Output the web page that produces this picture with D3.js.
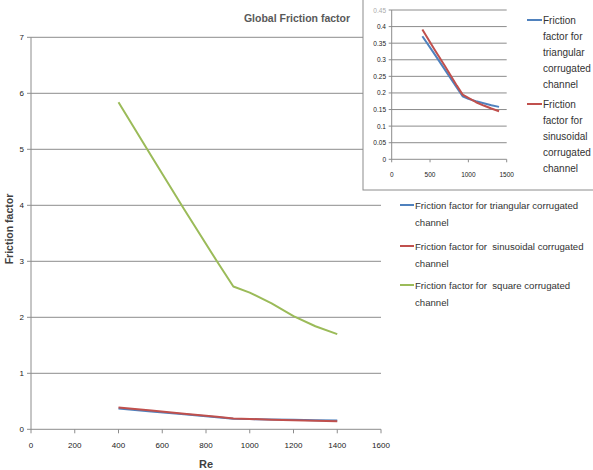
<!DOCTYPE html>
<html><head><meta charset="utf-8">
<script src="https://cdn.jsdelivr.net/npm/d3@7"></script>
<style>body{margin:0;background:#fff;}svg{display:block;font-family:"Liberation Sans",Arial,sans-serif;}text{white-space:pre;}</style>
</head><body>
<svg id="c" width="593" height="470"></svg>
<script>
// ---- data ----
const re = [400, 550, 700, 850, 925, 1000, 1100, 1200, 1300, 1400];
const triangular = [0.371, 0.320, 0.268, 0.216, 0.190, 0.182, 0.175, 0.169, 0.163, 0.158];
const sinusoidal = [0.391, 0.334, 0.279, 0.222, 0.195, 0.185, 0.172, 0.162, 0.153, 0.145];
const square = [5.84, 4.88, 3.93, 3.00, 2.55, 2.44, 2.25, 2.02, 1.84, 1.70];
const mainXTicks = [0, 200, 400, 600, 800, 1000, 1200, 1400, 1600];
const mainYTicks = [0, 1, 2, 3, 4, 5, 6, 7];
const insetXTicks = [0, 500, 1000, 1500];
const insetYTicks = [0, 0.05, 0.1, 0.15, 0.2, 0.25, 0.3, 0.35, 0.4, 0.45];
const mainLegend = [
  ["Friction factor for triangular corrugated", "channel"],
  ["Friction factor for  sinusoidal corrugated", "channel"],
  ["Friction factor for  square corrugated", "channel"]
];
const insetLegend = [
  ["Friction", "factor for", "triangular", "corrugated", "channel"],
  ["Friction", "factor for", "sinusoidal", "corrugated", "channel"]
];
const colors = ["#4F81BD", "#C0504D", "#9BBB59"];

const svg = d3.select("#c");
const gridC = "#8c8c8c";

// ---- main chart ----
const x = d3.scaleLinear().domain([0, 1600]).range([31, 381]);
const y = d3.scaleLinear().domain([0, 7]).range([429.3, 37.3]);

const gy = svg.append("g");
gy.selectAll("line.grid").data(mainYTicks).join("line")
  .attr("x1", 27).attr("x2", x(1600))
  .attr("y1", d => y(d)).attr("y2", d => y(d))
  .attr("stroke", gridC).attr("stroke-width", 1);
gy.selectAll("text").data(mainYTicks).join("text")
  .attr("x", 24).attr("y", d => y(d) + 3)
  .attr("text-anchor", "end").attr("font-size", 8).attr("fill", "#222")
  .text(d => d);
svg.append("line").attr("x1", x(0)).attr("x2", x(0)).attr("y1", y(7)).attr("y2", y(0))
  .attr("stroke", gridC);
const gx = svg.append("g");
gx.selectAll("line").data(mainXTicks).join("line")
  .attr("x1", d => x(d)).attr("x2", d => x(d))
  .attr("y1", y(0)).attr("y2", y(0) + 4).attr("stroke", gridC);
gx.selectAll("text").data(mainXTicks).join("text")
  .attr("x", d => x(d)).attr("y", 448)
  .attr("text-anchor", "middle").attr("font-size", 8).attr("fill", "#222")
  .text(d => d);

const mainSeries = [triangular, sinusoidal, square];
const lineMain = d3.line().x((d, i) => x(re[i])).y(d => y(d));
mainSeries.forEach((s, k) => {
  svg.append("path").datum(s).attr("d", lineMain)
    .attr("fill", "none").attr("stroke", colors[k]).attr("stroke-width", 2)
    .attr("stroke-linejoin", "round");
});

// titles
svg.append("text").attr("x", 297).attr("y", 22).attr("text-anchor", "middle")
  .attr("font-size", 10.5).attr("font-weight", "bold").attr("fill", "#595959")
  .text("Global Friction factor");
svg.append("text").attr("transform", "translate(13,229) rotate(-90)")
  .attr("text-anchor", "middle").attr("font-size", 10.5).attr("font-weight", "bold").attr("fill", "#404040")
  .text("Friction factor");
svg.append("text").attr("x", 206).attr("y", 468).attr("text-anchor", "middle")
  .attr("font-size", 11).attr("font-weight", "bold").attr("fill", "#404040")
  .text("Re");

// main legend
const legTop = [205, 246, 285];
mainLegend.forEach((lines, k) => {
  svg.append("line").attr("x1", 400).attr("x2", 414).attr("y1", legTop[k]).attr("y2", legTop[k])
    .attr("stroke", colors[k]).attr("stroke-width", 2);
  lines.forEach((t, j) => {
    svg.append("text").attr("x", 415).attr("y", legTop[k] + 3.5 + j * 17)
      .attr("font-size", 9.6).attr("fill", "#333").text(t);
  });
});

// ---- inset ----
const inset = svg.append("g");
inset.append("rect").attr("x", 363).attr("y", -1).attr("width", 240).attr("height", 191)
  .attr("fill", "#fff").attr("stroke", "#8c8c8c").attr("stroke-width", 1);
const xi = d3.scaleLinear().domain([0, 1500]).range([391.7, 506.7]);
const yi = d3.scaleLinear().domain([0, 0.45]).range([159.3, 10]);
inset.selectAll("line.g").data(insetYTicks).join("line")
  .attr("x1", xi(0) - 3).attr("x2", xi(1500))
  .attr("y1", d => yi(d)).attr("y2", d => yi(d))
  .attr("stroke", gridC);
inset.selectAll("text.yl").data(insetYTicks).join("text")
  .attr("x", 386).attr("y", d => yi(d) + 2.5)
  .attr("text-anchor", "end").attr("font-size", 6.5)
  .attr("fill", d => d === 0.45 ? "#aaa" : "#222")
  .text(d => d);
inset.append("line").attr("x1", xi(0)).attr("x2", xi(0)).attr("y1", yi(0.45)).attr("y2", yi(0))
  .attr("stroke", gridC);
inset.selectAll("line.xt").data(insetXTicks).join("line")
  .attr("x1", d => xi(d)).attr("x2", d => xi(d)).attr("y1", yi(0)).attr("y2", yi(0) + 3)
  .attr("stroke", gridC);
inset.selectAll("text.xl").data(insetXTicks).join("text")
  .attr("x", d => xi(d)).attr("y", 177)
  .attr("text-anchor", "middle").attr("font-size", 6.5).attr("fill", "#222")
  .text(d => d);
const lineIn = d3.line().x((d, i) => xi(re[i])).y(d => yi(d));
[triangular, sinusoidal].forEach((s, k) => {
  inset.append("path").datum(s).attr("d", lineIn)
    .attr("fill", "none").attr("stroke", colors[k]).attr("stroke-width", 2)
    .attr("stroke-linejoin", "round");
});
const inLegTop = [20, 104];
insetLegend.forEach((lines, k) => {
  inset.append("line").attr("x1", 527).attr("x2", 542).attr("y1", inLegTop[k]).attr("y2", inLegTop[k])
    .attr("stroke", colors[k]).attr("stroke-width", 2);
  lines.forEach((t, j) => {
    inset.append("text").attr("x", 543).attr("y", inLegTop[k] + 4 + j * 16)
      .attr("font-size", 10).attr("fill", "#333").text(t);
  });
});
</script>
</body></html>
